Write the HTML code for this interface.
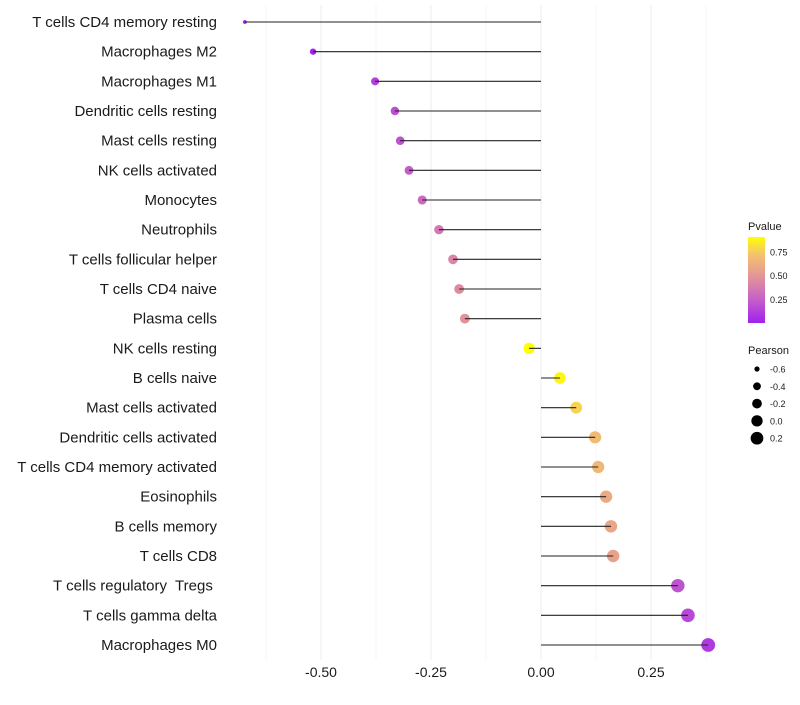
<!DOCTYPE html>
<html><head><meta charset="utf-8"><style>
body{margin:0;background:#fff;font-family:"Liberation Sans",sans-serif}
text{white-space:pre}
</style></head><body>
<svg id="chart" width="800" height="700" xmlns="http://www.w3.org/2000/svg">
<g id="grid"></g>
<g id="marks"></g>
<g id="ylab"></g>
<g id="xlab"></g>
<g id="legend"></g>
</svg>
<script>
const categories=["T cells CD4 memory resting","Macrophages M2","Macrophages M1","Dendritic cells resting","Mast cells resting","NK cells activated","Monocytes","Neutrophils","T cells follicular helper","T cells CD4 naive","Plasma cells","NK cells resting","B cells naive","Mast cells activated","Dendritic cells activated","T cells CD4 memory activated","Eosinophils","B cells memory","T cells CD8","T cells regulatory  Tregs ","T cells gamma delta","Macrophages M0"];
const pearson=[-0.673,-0.518,-0.377,-0.332,-0.320,-0.300,-0.270,-0.232,-0.200,-0.186,-0.173,-0.027,0.043,0.080,0.123,0.130,0.148,0.159,0.164,0.311,0.334,0.380];
const pvalue=[0.0,0.02,0.12,0.18,0.2,0.24,0.3,0.36,0.42,0.45,0.48,0.91,0.88,0.78,0.68,0.67,0.6,0.58,0.56,0.2,0.16,0.1];
const xTicks=[-0.5,-0.25,0,0.25];
const xTickLabels=["-0.50","-0.25","0.00","0.25"];
const legendSizes=[-0.6,-0.4,-0.2,0.0,0.2];
const legendSizeLabels=["-0.6","-0.4","-0.2","0.0","0.2"];
const pTicks=[0.25,0.5,0.75];
const pTickLabels=["0.25","0.50","0.75"];

const NS="http://www.w3.org/2000/svg";
const xS=v=>541+v*440;
const yS=i=>22+i*(623/21);
const rS=v=>Math.sqrt(Math.max(1,32+42*v));
const stops=[[0,[160,32,240]],[0.25,[198,96,200]],[0.5,[228,150,150]],[0.75,[246,200,104]],[0.91,[255,255,0]]];
function col(p){p=Math.max(0,Math.min(0.91,p));for(let k=0;k<stops.length-1;k++){const[a,ca]=stops[k],[b,cb]=stops[k+1];if(p<=b){const t=(p-a)/(b-a);return"rgb("+ca.map((c,j)=>Math.round(c+(cb[j]-c)*t)).join(",")+")";}}return"rgb(255,255,0)";}
function mk(tag,at,parent){const e=document.createElementNS(NS,tag);for(const k in at)e.setAttribute(k,at[k]);parent.appendChild(e);return e;}
const grid=document.getElementById("grid"),marks=document.getElementById("marks"),ylab=document.getElementById("ylab"),xlab=document.getElementById("xlab"),lg=document.getElementById("legend");
for(let v=-0.625;v<=0.4;v+=0.125){const l=mk("line",{x1:xS(v),x2:xS(v),y1:5,y2:660,stroke:"#eeeeee","stroke-width":Math.abs((v/0.25)%1)<1e-6?1.1:0.6},grid);

}
categories.forEach((c,i)=>{const y=yS(i);
const d=mk("circle",{cx:xS(pearson[i]),cy:y,r:rS(pearson[i]),fill:col(pvalue[i])},marks);


const l=mk("line",{x1:xS(0),x2:xS(pearson[i]),y1:y,y2:y,stroke:"#222","stroke-width":1.1},marks);


const t=mk("text",{x:217,y:y+5,"text-anchor":"end","font-size":15,fill:"#1a1a1a"},ylab);t.textContent=c;

});
xTicks.forEach((v,i)=>{const t=mk("text",{x:xS(v),y:677,"text-anchor":"middle","font-size":14,fill:"#1a1a1a"},xlab);t.textContent=xTickLabels[i];

});
const defs=mk("defs",{},lg);const g=mk("linearGradient",{id:"pg",x1:0,y1:1,x2:0,y2:0},defs);
for(let k=0;k<=10;k++){const p=k/10*0.91;mk("stop",{offset:k/10,"stop-color":col(p)},g);}
const tt=mk("text",{x:748,y:230,"font-size":11,fill:"#1a1a1a"},lg);tt.textContent="Pvalue";


const bar=mk("rect",{x:748,y:237,width:17,height:86,fill:"url(#pg)"},lg);


const pY=p=>323-p/0.91*86;
pTicks.forEach((p,i)=>{const t=mk("text",{x:770,y:pY(p)+3.5,"font-size":9,fill:"#1a1a1a"},lg);t.textContent=pTickLabels[i];

});
const st=mk("text",{x:748,y:354,"font-size":11,fill:"#1a1a1a"},lg);st.textContent="Pearson";


legendSizes.forEach((v,i)=>{const y=369+i*17.3;const c=mk("circle",{cx:757,cy:y,r:rS(v),fill:"#000"},lg);


const t=mk("text",{x:770,y:y+3.5,"font-size":9,fill:"#1a1a1a"},lg);t.textContent=legendSizeLabels[i];

});
</script>
</body></html>
